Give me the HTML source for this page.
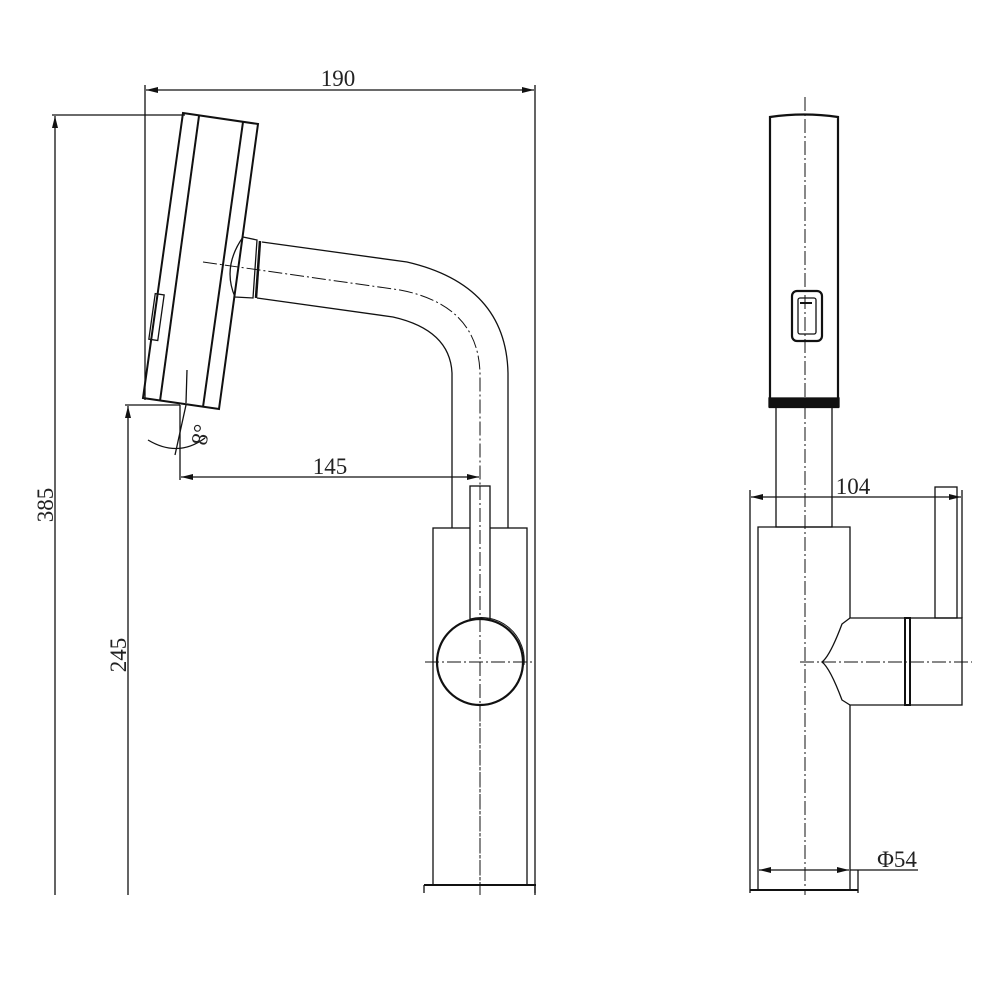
<!DOCTYPE html>
<html><head><style>
html,body{margin:0;padding:0;background:#fff;}
svg{display:block;}
text{font-family:"Liberation Serif",serif;font-size:23px;fill:#222;}
</style></head><body>
<svg width="1000" height="1000" viewBox="0 0 1000 1000" xmlns="http://www.w3.org/2000/svg">
<defs>
<marker id="a" viewBox="0 0 12 6" refX="12" refY="3" markerWidth="12" markerHeight="6" orient="auto-start-reverse" markerUnits="userSpaceOnUse"><path d="M0,0 L12,3 L0,6 z" fill="#111"/></marker>
</defs>
<g stroke="#111" stroke-width="1.3" fill="none">
<line x1="145" y1="85" x2="145" y2="400"/>
<line x1="535" y1="85" x2="535" y2="895"/>
<line x1="146" y1="90" x2="534" y2="90" marker-start="url(#a)" marker-end="url(#a)"/>
<line x1="52" y1="115" x2="185" y2="115"/>
<line x1="55" y1="116" x2="55" y2="895" marker-start="url(#a)"/>
<line x1="125" y1="405" x2="180" y2="405"/>
<line x1="128" y1="406" x2="128" y2="895" marker-start="url(#a)"/>
<line x1="180" y1="405" x2="180" y2="480"/>
<line x1="181" y1="477" x2="479" y2="477" marker-start="url(#a)" marker-end="url(#a)"/>
<path d="M183,113 L258,124 L219,409 L143,398 Z" stroke-width="2"/>
<line x1="199" y1="116" x2="160" y2="401" stroke-width="2"/>
<line x1="243" y1="122" x2="203" y2="407" stroke-width="2"/>
<rect x="152" y="294" width="9" height="46" transform="rotate(8 156 317)"/>
<line x1="187" y1="370" x2="186" y2="403"/>
<line x1="186" y1="405" x2="175" y2="455"/>
<path d="M148,440 Q178,458 205,438"/>
<path d="M243,237 L257,240 L253,298 L235,297 Q222,267 243,237 Z"/>
<line x1="260" y1="241" x2="256" y2="298" stroke-width="2.5"/>
<path d="M262,242 L407,262 Q506,285 508,373 L508,528"/>
<path d="M257,298 L393,317 Q450,330 452,373 L452,528"/>
<path d="M203,262 L400,290 Q478,305 480,373 L480,895" stroke-dasharray="14,3,2,3" stroke-width="1"/>
<rect x="433" y="528" width="94" height="357"/>
<line x1="424" y1="885" x2="536" y2="885" stroke-width="2"/>
<line x1="424" y1="885" x2="424" y2="893"/><line x1="535" y1="885" x2="535" y2="893"/>
<rect x="470" y="486" width="20" height="134" fill="#fff"/>
<circle cx="480" cy="662" r="43" fill="#fff" stroke-width="2.2"/>
<path d="M470,619 A43 43 0 0 1 524,665" stroke-width="1"/>
<line x1="425" y1="662" x2="535" y2="662" stroke-dasharray="14,3,2,3" stroke-width="1"/>
<line x1="480" y1="486" x2="480" y2="895" stroke-dasharray="14,3,2,3" stroke-width="1"/>

<path d="M770,117 Q804,112 838,117 L838,407 L770,407 Z" stroke-width="2.2"/>
<rect x="769" y="398" width="70" height="9" fill="#111"/>
<rect x="792" y="291" width="30" height="50" rx="5" stroke-width="2.2"/>
<rect x="798" y="298" width="18" height="36" rx="2"/>
<line x1="800" y1="303" x2="812" y2="303" stroke-width="2"/>
<rect x="776" y="407" width="56" height="120"/>
<path d="M758,527 L850,527 L850,890 L758,890 Z"/>
<line x1="750" y1="890" x2="858" y2="890" stroke-width="2"/>
<line x1="858" y1="870" x2="858" y2="893"/>
<path d="M850,618 L905,618 L905,705 L850,705 L842,700 Q830,668 822,662 Q830,656 842,624 Z" fill="#fff"/>
<rect x="905" y="618" width="5" height="87" stroke-width="2"/>
<rect x="910" y="618" width="52" height="87"/>
<rect x="935" y="487" width="22" height="131"/>
<line x1="750" y1="490" x2="750" y2="893"/>
<line x1="962" y1="490" x2="962" y2="618"/>
<line x1="751" y1="497" x2="961" y2="497" marker-start="url(#a)" marker-end="url(#a)"/>
<line x1="759" y1="870" x2="849" y2="870" marker-start="url(#a)" marker-end="url(#a)"/>
<line x1="850" y1="870" x2="918" y2="870"/>
<line x1="805" y1="97" x2="805" y2="895" stroke-dasharray="14,3,2,3" stroke-width="1"/>
<line x1="800" y1="662" x2="972" y2="662" stroke-dasharray="14,3,2,3" stroke-width="1"/>
</g>
<text x="338" y="86" text-anchor="middle">190</text>
<text x="330" y="474" text-anchor="middle">145</text>
<text transform="translate(53,505) rotate(-90)" text-anchor="middle">385</text>
<text transform="translate(126,655) rotate(-90)" text-anchor="middle">245</text>
<text transform="translate(208,436) rotate(-80)" text-anchor="middle">8°</text>
<text x="853" y="494" text-anchor="middle">104</text>
<text x="897" y="867" text-anchor="middle">Φ54</text>
</svg>
</body></html>
